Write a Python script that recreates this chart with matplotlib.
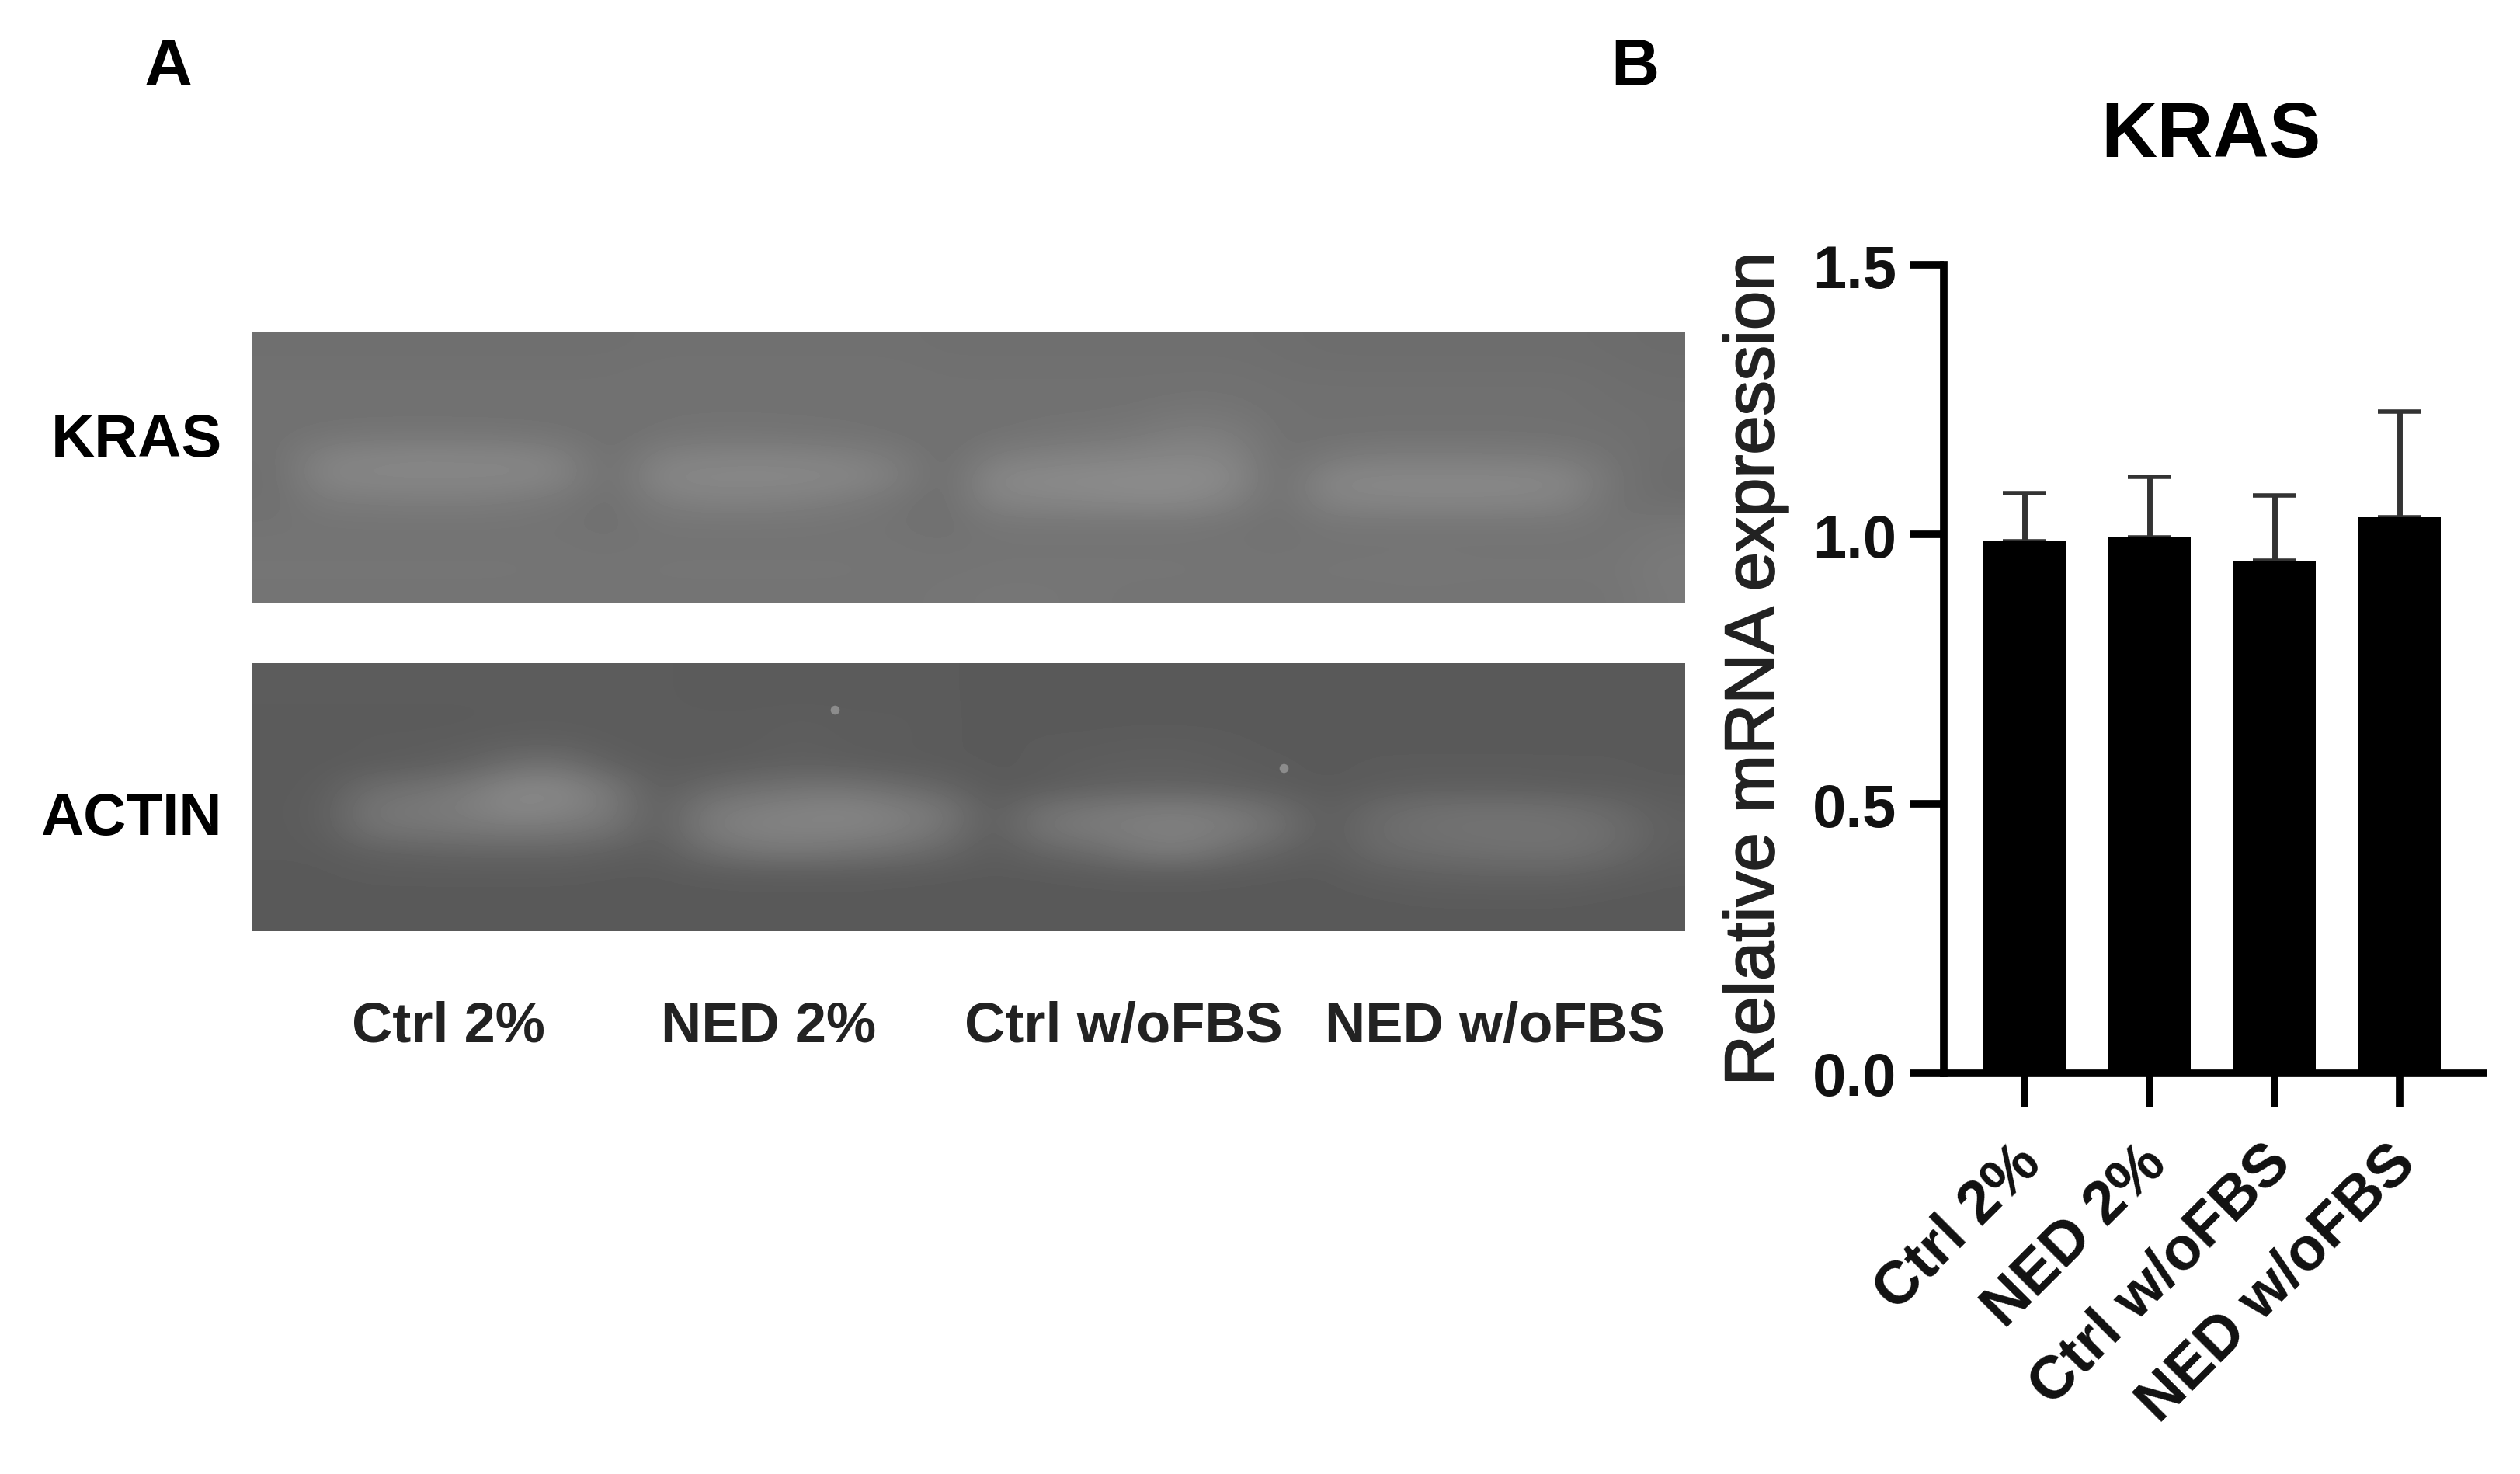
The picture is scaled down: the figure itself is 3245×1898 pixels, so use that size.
import matplotlib
matplotlib.use('Agg')
import matplotlib.pyplot as plt
import matplotlib.patheffects as pe
import matplotlib.transforms as mtransforms
import numpy as np

plt.rcParams['font.family'] = ['Liberation Sans', 'DejaVu Sans']

# panel B values
categories = ['Ctrl 2%', 'NED 2%', 'Ctrl w/oFBS', 'NED w/oFBS']
means = [0.987, 0.994, 0.951, 1.032]
err_tops = [1.077, 1.107, 1.072, 1.227]
y_ticks = [0.0, 0.5, 1.0, 1.5]
y_tick_labels = ['0.0', '0.5', '1.0', '1.5']

# panel A lane labels
lane_labels = ['Ctrl 2%', 'NED 2%', 'Ctrl w/oFBS', 'NED w/oFBS']
row_labels = ['KRAS', 'ACTIN']

# grey levels (coarse grid, rows top to bottom)
kras_gel = [
    [111, 111, 111, 111, 111, 111, 111, 111, 112, 112, 112, 112, 112, 112, 111, 111, 111, 111, 111, 111, 111, 110, 109, 109, 109, 109, 109, 109, 108, 107],
    [112, 112, 112, 112, 112, 112, 112, 112, 113, 113, 113, 113, 113, 113, 112, 112, 112, 112, 112, 112, 112, 111, 110, 110, 110, 110, 110, 110, 109, 108],
    [113, 113, 113, 113, 113, 113, 113, 113, 114, 114, 114, 114, 114, 114, 113, 113, 113, 113, 113, 114, 114, 112, 112, 112, 112, 112, 112, 112, 110, 109],
    [113, 113, 113, 113, 113, 113, 113, 113, 114, 114, 114, 114, 114, 114, 113, 113, 114, 114, 115, 118, 117, 113, 112, 112, 112, 112, 112, 112, 111, 110],
    [113, 116, 118, 118, 118, 117, 115, 112, 115, 117, 117, 116, 115, 113, 112, 114, 116, 118, 120, 126, 124, 113, 113, 114, 114, 114, 114, 113, 112, 110],
    [112, 130, 132, 134, 133, 133, 128, 110, 128, 130, 131, 130, 128, 122, 110, 124, 128, 130, 132, 134, 132, 112, 120, 124, 124, 124, 123, 122, 114, 109],
    [111, 132, 134, 134, 134, 134, 130, 110, 134, 136, 136, 136, 134, 126, 108, 136, 138, 139, 140, 140, 138, 110, 134, 136, 136, 136, 136, 134, 116, 108],
    [112, 122, 123, 124, 124, 122, 118, 111, 124, 128, 128, 126, 122, 116, 110, 130, 132, 134, 136, 136, 128, 112, 130, 132, 133, 133, 132, 130, 114, 110],
    [115, 116, 116, 116, 116, 116, 115, 113, 117, 117, 117, 117, 116, 115, 112, 118, 118, 118, 118, 118, 116, 113, 118, 118, 118, 118, 118, 118, 115, 118],
    [116, 116, 116, 116, 116, 116, 116, 115, 116, 116, 116, 116, 116, 116, 115, 116, 116, 116, 116, 116, 116, 115, 116, 116, 116, 116, 116, 116, 116, 120],
    [117, 117, 117, 117, 117, 117, 116, 116, 117, 117, 117, 117, 117, 116, 116, 117, 117, 117, 117, 117, 116, 116, 117, 117, 118, 117, 117, 117, 117, 122],
    [116, 116, 116, 116, 116, 116, 116, 116, 116, 116, 116, 116, 116, 116, 117, 118, 118, 117, 116, 116, 116, 116, 116, 116, 116, 116, 116, 116, 116, 121],
]
actin_gel = [
    [92, 92, 92, 92, 92, 92, 92, 92, 92, 91, 91, 91, 91, 91, 91, 90, 90, 90, 90, 90, 90, 90, 89, 89, 89, 89, 89, 89, 89, 89],
    [92, 92, 92, 92, 92, 92, 92, 92, 92, 91, 91, 91, 91, 91, 91, 90, 90, 90, 90, 90, 90, 90, 90, 90, 90, 90, 90, 90, 90, 90],
    [91, 91, 91, 91, 91, 92, 92, 92, 92, 92, 92, 93, 92, 92, 91, 90, 90, 90, 90, 90, 90, 90, 90, 90, 90, 90, 90, 90, 90, 90],
    [91, 91, 92, 92, 93, 95, 95, 92, 92, 92, 92, 94, 92, 92, 91, 90, 91, 91, 92, 92, 91, 90, 90, 90, 90, 90, 90, 90, 90, 90],
    [91, 91, 92, 94, 98, 110, 112, 96, 92, 92, 94, 96, 94, 92, 91, 90, 91, 93, 94, 94, 92, 91, 90, 91, 91, 91, 91, 91, 91, 90],
    [91, 92, 108, 112, 120, 134, 134, 118, 93, 104, 110, 114, 114, 108, 100, 90, 92, 96, 98, 98, 96, 92, 90, 92, 94, 94, 94, 92, 92, 91],
    [91, 94, 118, 120, 126, 136, 132, 122, 94, 120, 126, 130, 132, 126, 118, 92, 112, 118, 122, 124, 118, 108, 92, 104, 110, 112, 112, 110, 104, 94],
    [91, 93, 114, 116, 118, 120, 118, 114, 94, 122, 130, 130, 130, 126, 116, 92, 116, 122, 126, 128, 124, 112, 92, 108, 112, 114, 114, 114, 110, 96],
    [91, 91, 96, 98, 100, 100, 100, 96, 92, 108, 116, 118, 114, 110, 102, 91, 100, 106, 118, 122, 108, 98, 92, 104, 108, 110, 112, 112, 106, 94],
    [90, 90, 91, 91, 91, 91, 91, 90, 90, 91, 92, 92, 92, 91, 90, 90, 90, 91, 92, 92, 91, 90, 90, 94, 96, 98, 98, 98, 94, 91],
    [90, 90, 90, 90, 90, 90, 90, 90, 90, 90, 90, 90, 90, 90, 90, 90, 90, 90, 90, 90, 90, 90, 90, 90, 91, 91, 91, 91, 90, 90],
    [90, 90, 90, 90, 90, 90, 90, 90, 90, 90, 90, 90, 90, 90, 90, 90, 90, 90, 90, 90, 90, 90, 90, 90, 90, 90, 90, 90, 90, 90],
]
# small bright specks on the ACTIN gel, in grid cells
speck_cols = [11.7, 21.1]
speck_rows = [1.6, 4.2]

figure_width = 32.45
figure_height = 18.99
W = 3245
H = 1899


def px_axes(x0, y0, x1, y1):
    # pixel box of the reference, y counted from the top
    return plt.axes([x0 / W, 1 - y1 / H, (x1 - x0) / W, (y1 - y0) / H])


def fig_text(x, y, s, **kw):
    fig.text(x / W, 1 - y / H, s, **kw)


fig = plt.figure(figsize=(figure_width, figure_height), dpi=100, facecolor='white')

# panel A, the two gels
panel_kras = px_axes(325, 429, 2169, 778)
panel_kras.imshow(np.array(kras_gel), cmap='gray', vmin=0, vmax=255, aspect='auto',
                  interpolation='bicubic')
panel_kras.axis('off')

panel_actin = px_axes(325, 855, 2169, 1200)
panel_actin.imshow(np.array(actin_gel), cmap='gray', vmin=0, vmax=255, aspect='auto',
                   interpolation='bicubic')
panel_actin.scatter(speck_cols, speck_rows, s=70, color='#8c8c8c', linewidths=0)
panel_actin.axis('off')

fig_text(286, 568, row_labels[0], fontsize=56, fontweight='bold', ha='right', va='center')
fig_text(286, 1056, row_labels[1], fontsize=55, fontweight='bold', ha='right', va='center')

for lane_x, label in zip([577, 990, 1447, 1925], lane_labels):
    fig_text(lane_x, 1323, label, fontsize=52, fontweight='bold', ha='center', va='center',
             color='#222222')

fig_text(217, 88, 'A', fontsize=62, fontweight='bold', ha='center', va='center')
fig_text(2105, 88, 'B', fontsize=62, fontweight='bold', ha='center', va='center')
fig_text(2847, 176, 'KRAS', fontsize=72, fontweight='bold', ha='center', va='center')

# panel B, bar chart
panel2 = px_axes(2503, 342, 3198, 1383)
positions = np.arange(len(categories))
errs = [t - m for t, m in zip(err_tops, means)]
panel2.bar(positions, means, width=0.66, color='black', zorder=2)
panel2.errorbar(positions, means, yerr=[[0] * 4, errs], fmt='none', ecolor='#333333',
                elinewidth=5, capsize=20, capthick=4, zorder=1)
panel2.set_xlim(-0.646, 3.67)
panel2.set_ylim(0, 1.5)

panel2.spines['top'].set_visible(False)
panel2.spines['right'].set_visible(False)
panel2.spines['left'].set_linewidth(7)
panel2.spines['bottom'].set_linewidth(7)
panel2.spines['left'].set_capstyle('projecting')

panel2.set_yticks(y_ticks)
panel2.set_yticklabels(y_tick_labels, fontsize=56, fontweight='bold', color='#111111')
panel2.set_xticks(positions)
panel2.set_xticklabels(categories, fontsize=56, fontweight='bold', rotation=45, ha='right',
                       rotation_mode='anchor', color='#111111')
panel2.tick_params(axis='y', length=32, width=7, pad=12)
panel2.tick_params(axis='x', length=32, width=7, pad=24)

# rotated labels sit a bit further left in the reference
shift = mtransforms.ScaledTranslation(-12 / 72, 0, fig.dpi_scale_trans)
for tick_label in panel2.get_xticklabels():
    tick_label.set_transform(tick_label.get_transform() + shift)

panel2.set_ylabel('Relative mRNA expression', fontsize=65, labelpad=22, color='#222222',
                  path_effects=[pe.withStroke(linewidth=1.5, foreground='#222222')])
panel2.yaxis.label.set_y(0.5)

plt.savefig('out.png', dpi=100, facecolor='white')
